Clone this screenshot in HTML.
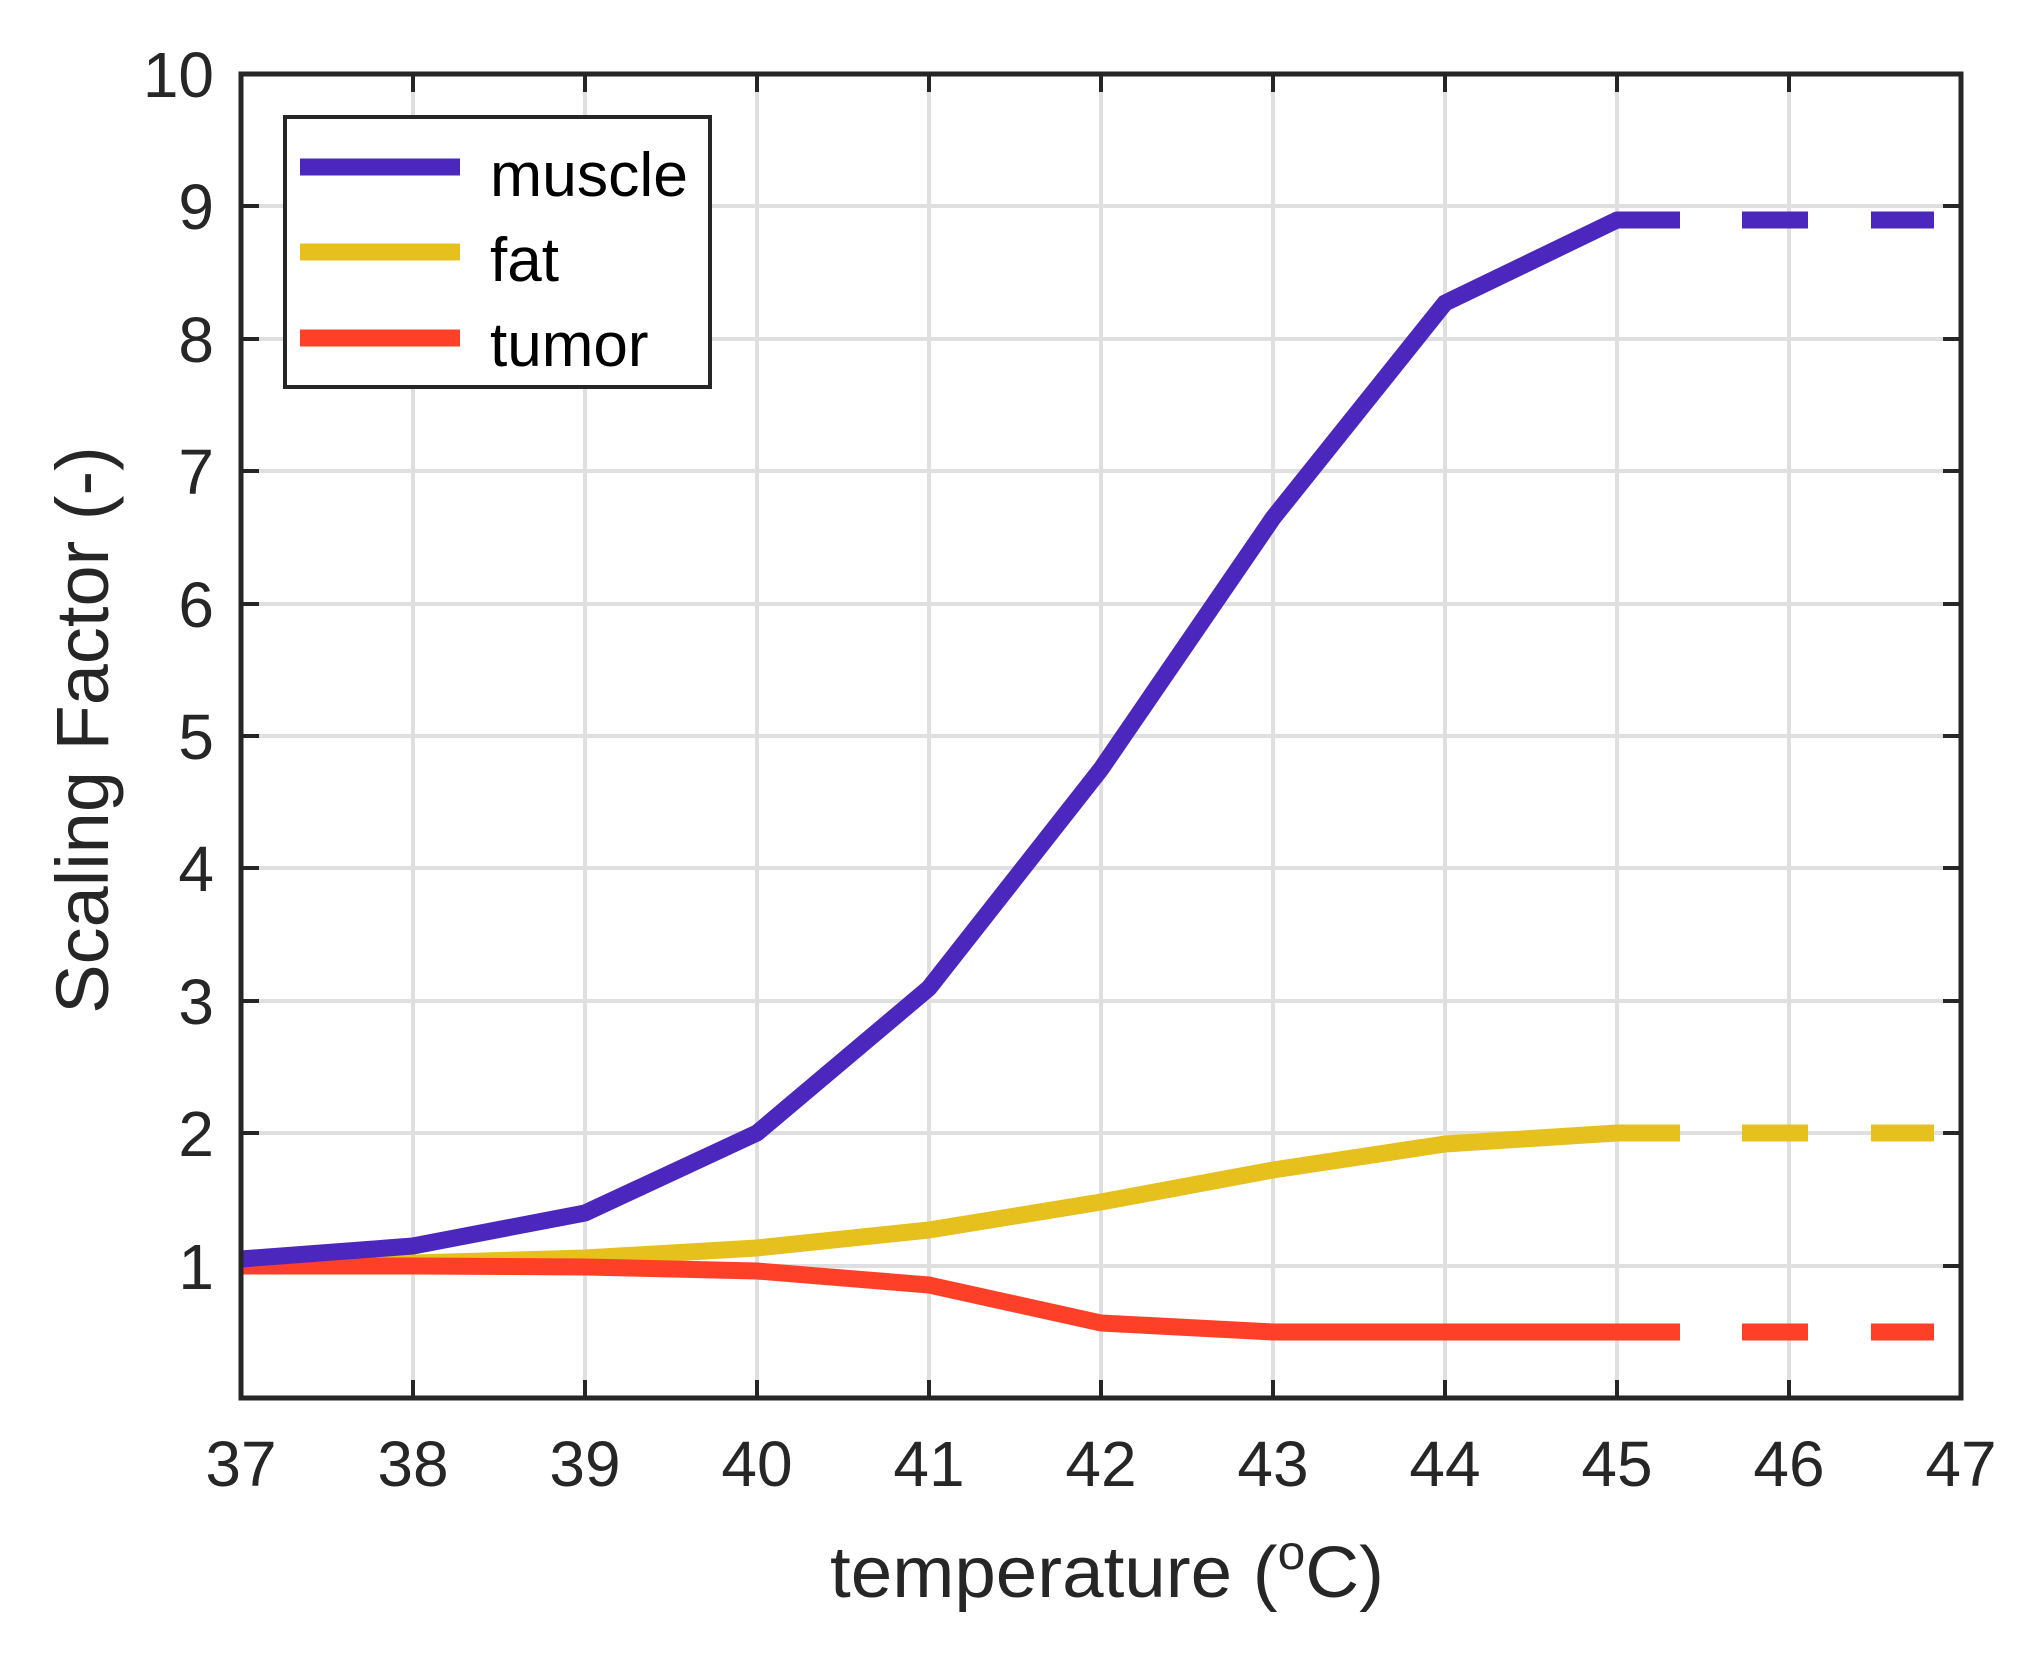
<!DOCTYPE html>
<html><head><meta charset="utf-8"><style>html,body{margin:0;padding:0;background:#fff}</style></head>
<body>
<svg width="2042" height="1658" viewBox="0 0 2042 1658" xmlns="http://www.w3.org/2000/svg" font-family="Liberation Sans, Arial, sans-serif" fill="#262626">
<rect width="2042" height="1658" fill="#fff"/>
<g stroke="#dfdfdf" stroke-width="4">
<line x1="413" y1="74" x2="413" y2="1398"/><line x1="585" y1="74" x2="585" y2="1398"/><line x1="757" y1="74" x2="757" y2="1398"/><line x1="929" y1="74" x2="929" y2="1398"/><line x1="1101" y1="74" x2="1101" y2="1398"/><line x1="1273" y1="74" x2="1273" y2="1398"/><line x1="1445" y1="74" x2="1445" y2="1398"/><line x1="1617" y1="74" x2="1617" y2="1398"/><line x1="1789" y1="74" x2="1789" y2="1398"/>
<line x1="241" y1="206" x2="1961" y2="206"/><line x1="241" y1="339" x2="1961" y2="339"/><line x1="241" y1="471" x2="1961" y2="471"/><line x1="241" y1="604" x2="1961" y2="604"/><line x1="241" y1="736" x2="1961" y2="736"/><line x1="241" y1="868" x2="1961" y2="868"/><line x1="241" y1="1001" x2="1961" y2="1001"/><line x1="241" y1="1133" x2="1961" y2="1133"/><line x1="241" y1="1266" x2="1961" y2="1266"/>
</g>
<g stroke="#262626" stroke-width="4">
<path d="M413 1398v-18M585 1398v-18M757 1398v-18M929 1398v-18M1101 1398v-18M1273 1398v-18M1445 1398v-18M1617 1398v-18M1789 1398v-18"/>
<path d="M413 74v18M585 74v18M757 74v18M929 74v18M1101 74v18M1273 74v18M1445 74v18M1617 74v18M1789 74v18"/>
<path d="M241 206h18M241 339h18M241 471h18M241 604h18M241 736h18M241 868h18M241 1001h18M241 1133h18M241 1266h18"/>
<path d="M1961 206h-18M1961 339h-18M1961 471h-18M1961 604h-18M1961 736h-18M1961 868h-18M1961 1001h-18M1961 1133h-18M1961 1266h-18"/>
</g>
<g fill="none" stroke-width="17" stroke-linejoin="round">
<polyline stroke="#e6c01d" points="241,1266 413,1263 585,1258 757,1248 929,1230 1101,1202 1273,1170 1445,1144 1617,1133 1680,1133"/>
<polyline stroke="#ff4028" points="241,1266 413,1266 585,1267 757,1271 929,1285 1101,1323 1273,1332 1445,1332 1617,1332 1680,1332"/>
<polyline stroke="#4c27be" points="241,1259 413,1246 585,1213 757,1133 929,988 1101,769 1273,518 1445,303 1617,220 1680,220"/>
<g stroke-linejoin="miter">
<path stroke="#e6c01d" d="M1742 1133h66M1871 1133h63"/>
<path stroke="#ff4028" d="M1742 1332h66M1871 1332h63"/>
<path stroke="#4c27be" d="M1742 220h66M1871 220h63"/>
</g>
</g>
<rect x="241" y="74" width="1720" height="1324" fill="none" stroke="#262626" stroke-width="5"/>
<rect x="285" y="117" width="425" height="270" fill="#fff" stroke="#262626" stroke-width="4"/>
<g stroke-width="17"><line x1="300" y1="167" x2="460" y2="167" stroke="#4c27be"/><line x1="300" y1="252" x2="460" y2="252" stroke="#e6c01d"/><line x1="300" y1="338" x2="460" y2="338" stroke="#ff4028"/></g>
<g font-size="62" fill="#000"><text x="490" y="196" textLength="198" lengthAdjust="spacingAndGlyphs">muscle</text><text x="490" y="281">fat</text><text x="490" y="366">tumor</text></g>
<g font-size="64" text-anchor="middle">
<text x="241" y="1486">37</text><text x="413" y="1486">38</text><text x="585" y="1486">39</text><text x="757" y="1486">40</text><text x="929" y="1486">41</text><text x="1101" y="1486">42</text><text x="1273" y="1486">43</text><text x="1445" y="1486">44</text><text x="1617" y="1486">45</text><text x="1789" y="1486">46</text><text x="1961" y="1486">47</text>
</g>
<g font-size="64" text-anchor="end">
<text x="214" y="97">10</text><text x="214" y="229">9</text><text x="214" y="362">8</text><text x="214" y="494">7</text><text x="214" y="627">6</text><text x="214" y="759">5</text><text x="214" y="891">4</text><text x="214" y="1024">3</text><text x="214" y="1156">2</text><text x="214" y="1289">1</text>
</g>
<text x="830" y="1597" font-size="72" textLength="554" lengthAdjust="spacingAndGlyphs">temperature (<tspan font-size="48" dy="-28">o</tspan><tspan dy="28">C)</tspan></text>
<text transform="translate(108,730) rotate(-90)" font-size="74" text-anchor="middle">Scaling Factor (-)</text>
</svg>
</body></html>
